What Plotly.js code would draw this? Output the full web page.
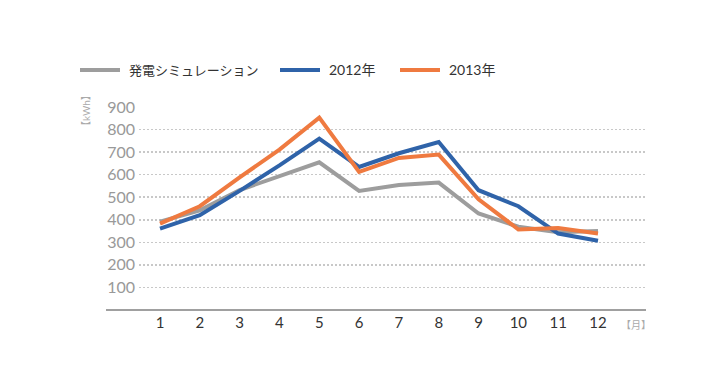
<!DOCTYPE html>
<html><head><meta charset="utf-8">
<script src="https://cdn.plot.ly/plotly-3.0.1.min.js"></script>
<style>html,body{margin:0;padding:0;background:#fff;}#chart{width:726px;height:390px;}</style>
</head><body><div id="chart"></div>
<script>
// ---- data ----
const months = [1,2,3,4,5,6,7,8,9,10,11,12];
const monthLabels = ["1","2","3","4","5","6","7","8","9","10","11","12"];
const simulation = [392,442,532,593,655,528,554,565,428,369,345,350];
const y2012 = [361,420,528,641,760,634,695,745,531,460,339,307];
const y2013 = [383,460,588,711,853,612,674,689,491,357,364,339];
const seriesNames = ["発電シミュレーション","2012年","2013年"];
const yTicks = [100,200,300,400,500,600,700,800,900];
const yUnit = "【kWh】";
const xUnit = "【月】";

// ---- layout helpers ----
const W = 726, H = 390;
const L = 139, R = 646, T = 107, B = 310;
const px = x => (x - L) / (R - L);
const py = y => (B - y) / (B - T);
const colors = ["#9d9d9d", "#2f63a9", "#ef7a40"];
const FONT = "Lato, 'Noto Sans CJK JP', sans-serif";

const series = [simulation, y2012, y2013];
const traces = series.map((s, i) => ({
  x: months, y: s, type: "scatter", mode: "lines", name: seriesNames[i],
  line: {color: colors[i], width: 4}, showlegend: false, hoverinfo: "skip"
}));

const shapes = [
  {type: "line", xref: "paper", yref: "paper", x0: px(106), x1: 1, y0: 0, y1: 0,
   line: {color: "#a0a0a0", width: 2}}
];
const annotations = [];
const legendPos = [[80, 127], [280, 327], [400, 447]];
const legendSize = [13, 14, 14];
seriesNames.forEach((n, i) => {
  const [lx, tx] = legendPos[i];
  shapes.push({type: "line", xref: "paper", yref: "paper", x0: px(lx), x1: px(lx + 40),
    y0: py(70), y1: py(70), line: {color: colors[i], width: 4}});
  annotations.push({xref: "paper", yref: "paper", x: px(tx), y: py(70), xanchor: "left",
    yanchor: "middle", text: n, showarrow: false,
    font: {family: FONT, size: legendSize[i], color: "#333"}});
});
annotations.push({xref: "paper", yref: "paper", x: px(86), y: py(111), text: yUnit,
  textangle: -90, showarrow: false, xanchor: "center", yanchor: "middle",
  font: {family: FONT, size: 10, color: "#aaa"}});
annotations.push({xref: "paper", yref: "paper", x: px(619), y: py(325), text: xUnit,
  showarrow: false, xanchor: "left", yanchor: "middle",
  font: {family: FONT, size: 10, color: "#aaa"}});

const layout = {
  width: W, height: H,
  margin: {l: L, r: W - R, t: T, b: H - B, pad: 0},
  paper_bgcolor: "#fff", plot_bgcolor: "#fff",
  showlegend: false,
  xaxis: {range: [1 - 21/39.82, 12 + 48/39.82], tickvals: months, ticktext: monthLabels,
    showgrid: false, zeroline: false, showline: false, ticks: "", ticklabelstandoff: 2,
    tickfont: {family: FONT, size: 15, color: "#333"}, fixedrange: true},
  yaxis: {range: [0, 900], tickvals: yTicks, showgrid: true, gridcolor: "#c8c8c8",
    gridwidth: 1.5, griddash: "2px,2px", zeroline: false, showline: false, ticks: "",
    ticklabelstandoff: 3,
    tickfont: {family: FONT, size: 16, color: "#999"}, fixedrange: true},
  shapes: shapes, annotations: annotations
};
Plotly.newPlot("chart", traces, layout, {displayModeBar: false, staticPlot: true});
</script></body></html>
